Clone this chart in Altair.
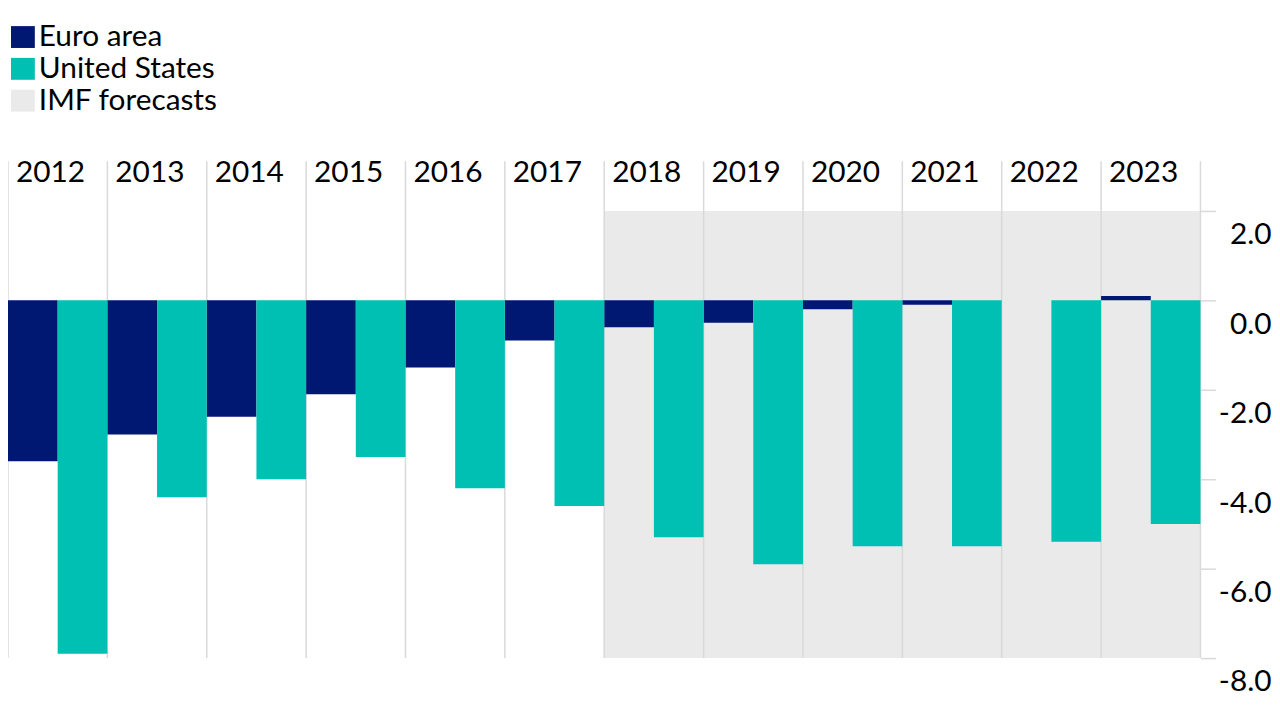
import altair as alt
import pandas as pd

FONT = "Lato"
FS = 30

years = ["2012", "2013", "2014", "2015", "2016", "2017",
         "2018", "2019", "2020", "2021", "2022", "2023"]
euro_area = [-3.6, -3.0, -2.6, -2.1, -1.5, -0.9, -0.6, -0.5, -0.2, -0.1, 0.0, 0.1]
united_states = [-7.9, -4.4, -4.0, -3.5, -4.2, -4.6, -5.3, -5.9, -5.5, -5.5, -5.4, -5.0]
forecast_years = ["2018", "2019", "2020", "2021", "2022", "2023"]
series_names = ["Euro area", "United States", "IMF forecasts"]
series_colors = ["#001871", "#00BFB3", "#EAEAEA"]
y_ticks = [-8, -6, -4, -2, 0, 2]
y_domain = [-8, 2]

bars_df = pd.DataFrame({
    "year": years * 2,
    "series": ["Euro area"] * len(years) + ["United States"] * len(years),
    "value": euro_area + united_states,
})
fc_df = pd.DataFrame({
    "year": forecast_years,
    "series": ["IMF forecasts"] * len(forecast_years),
    "top": [y_domain[1]] * len(forecast_years),
    "bottom": [y_domain[0]] * len(forecast_years),
})
years_df = pd.DataFrame({"year": years})

x_scale = alt.Scale(domain=years, paddingInner=0, paddingOuter=0)
color_scale = alt.Scale(domain=series_names, range=series_colors)

y_axis = alt.Axis(
    orient="right", values=y_ticks, title=None, grid=False, domain=False,
    tickSize=15, tickColor="#d9d9d9", tickWidth=1.5,
    labelExpr="(datum.value < 0 ? '-' : '') + format(abs(datum.value), '.1f')",
    labelAlign="right", labelBaseline="middle", labelOffset=24, labelPadding=56,
    labelFontSize=FS, labelFont=FONT, labelColor="#000000",
    labelFlush=False, labelOverlap=False, labelBound=False,
)
y_scale = alt.Scale(domain=y_domain, nice=False, zero=False)

legend = alt.Legend(
    orient="none", legendX=0, legendY=-190, title=None,
    symbolType="M-1,-0.917H1V0.917H-1Z", symbolSize=576,
    symbolStrokeWidth=0, symbolOpacity=1,
    labelFontSize=FS, labelFont=FONT, labelColor="#000000", labelLimit=0,
    labelOffset=1, rowPadding=2, padding=0,
)

shade = alt.Chart(fc_df).mark_rect().encode(
    x=alt.X("year:N", sort=years, scale=x_scale, axis=None),
    y=alt.Y("top:Q", scale=y_scale, axis=y_axis),
    y2="bottom:Q",
    color=alt.Color("series:N", scale=color_scale, legend=legend),
)

seps = alt.Chart(years_df).mark_rule(color="#d9d9d9", strokeWidth=1.5).encode(
    x=alt.X("year:N", sort=years, scale=x_scale, axis=None, bandPosition=0),
    y=alt.value(-50),
    y2=alt.value(450),
)
sep_right = alt.Chart(years_df).transform_filter(
    alt.datum.year == years[-1]
).mark_rule(color="#d9d9d9", strokeWidth=1.5).encode(
    x=alt.X("year:N", sort=years, scale=x_scale, axis=None, bandPosition=1),
    y=alt.value(-50),
    y2=alt.value(450),
)

bars = alt.Chart(bars_df).mark_bar(opacity=1).encode(
    x=alt.X("year:N", sort=years, scale=x_scale, axis=None),
    xOffset=alt.XOffset("series:N", sort=["Euro area", "United States"],
                        scale=alt.Scale(paddingInner=0, paddingOuter=0)),
    y=alt.Y("value:Q", scale=y_scale, axis=y_axis),
    color=alt.Color("series:N", scale=color_scale, legend=legend),
)

labels = alt.Chart(years_df).mark_text(
    align="left", baseline="middle", dx=8, fontSize=FS, font=FONT, color="#000000"
).encode(
    x=alt.X("year:N", sort=years, scale=x_scale, axis=None, bandPosition=0),
    y=alt.value(-38),
    text="year:N",
)

chart = alt.layer(shade, seps, sep_right, bars, labels).properties(
    width=1200, height=450,
    padding={"left": 0, "top": 202, "right": 72, "bottom": 50},
    autosize="none",
).configure_view(stroke=None)

chart.save("out.html", embed_options={"renderer": "svg", "actions": False})
